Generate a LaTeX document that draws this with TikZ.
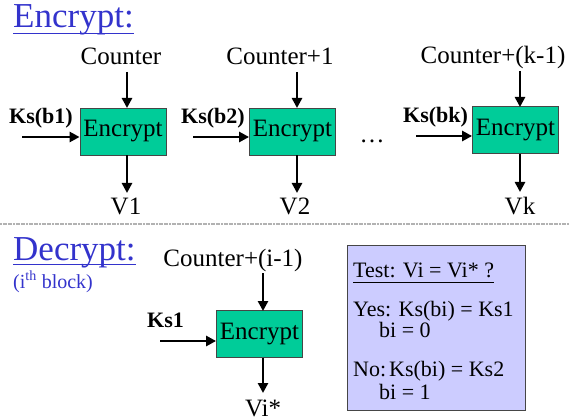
\documentclass[tikz,border=0pt]{standalone}
\usepackage{fontspec}
\setmainfont{Liberation Serif}
\usetikzlibrary{arrows.meta,calc}

\definecolor{boxgreen}{RGB}{0,204,153}
\definecolor{titleblue}{RGB}{51,51,204}
\definecolor{testfill}{RGB}{204,204,255}
\definecolor{edge}{RGB}{70,70,70}

\tikzset{
  lbl/.style={inner sep=0pt, anchor=base, font=\fontsize{25}{28}\selectfont},
  keylbl/.style={inner sep=0pt, anchor=base west, font=\fontsize{22}{24}\selectfont\bfseries},
  testlbl/.style={inner sep=0pt, anchor=base west, font=\fontsize{22}{24}\selectfont},
  title/.style={inner sep=0pt, anchor=base west, text=titleblue, font=\fontsize{35}{38}\selectfont},
  encbox/.style={draw=edge, line width=0.8pt, fill=boxgreen, minimum width=86pt, minimum height=47pt,
    inner sep=0pt, font=\fontsize{25}{28}\selectfont},
  flow/.style={line width=2.8pt, -{Triangle[length=10pt,width=10pt]}},
  uline/.style={line width=1.4pt},
}

\begin{document}
\begin{tikzpicture}[x=1pt,y=-1pt]
\useasboundingbox (0,0) rectangle (569,419);

% ---------- encryption of k blocks ----------
\node[title] (enctitle) at (13,28) {Encrypt:};
\draw[uline, titleblue] ($(enctitle.base west)+(0,5.5)$) -- ($(enctitle.base east)+(0,5.5)$);

\node[encbox] (e1) at (123,131.5) {Encrypt};
\node[encbox] (e2) at (292.5,131.5) {Encrypt};
\node[encbox] (ek) at (515.5,130) {Encrypt};

\node[lbl] (c1) at (121,65) {Counter};
\node[lbl] (c2) at (280,65) {Counter+1};
\node[lbl] (ck) at (493,64) {Counter+(k-1)};

\node[keylbl] (k1) at (9,124) {Ks(b1)};
\node[keylbl] (k2) at (181,124) {Ks(b2)};
\node[keylbl] (kk) at (403,123) {Ks(bk)};

\node[lbl] (v1) at (126,215) {V1};
\node[lbl] (v2) at (295,215) {V2};
\node[lbl] (vk) at (520,215) {Vk};

\node[lbl] (dots) at (372,143) {\dots};

\coordinate (i1) at (22,137);
\coordinate (i2) at (193,137);
\coordinate (ik) at (416,136);

\draw[flow] (127,72) -- (127,108);
\draw[flow] (297,72) -- (297,108);
\draw[flow] (520,71) -- (520,107);

\draw[flow] (i1) -- (e1.west |- i1);
\draw[flow] (i2) -- (e2.west |- i2);
\draw[flow] (ik) -- (ek.west |- ik);

\draw[flow] (e1.south -| 127,0) -- (127,193);
\draw[flow] (e2.south -| 297,0) -- (297,193);
\draw[flow] (ek.south -| 520,0) -- (520,192);

% ---------- separator ----------
\draw[gray!60, line width=1.6pt, dash pattern=on 2pt off 0.6pt] (0,224) -- (569,224);

% ---------- decryption of block i ----------
\node[title] (dectitle) at (13,260) {Decrypt:};
\draw[uline, titleblue] ($(dectitle.base west)+(0,4.5)$) -- ($(dectitle.base east)+(0,4.5)$);
\node[inner sep=0pt, anchor=base west, text=titleblue, font=\fontsize{20}{22}\selectfont]
  (blk) at (13,288) {(i\textsuperscript{th} block)};

\node[encbox] (d) at (259.5,334) {Encrypt};
\node[lbl] (ci) at (233,266) {Counter+(i-1)};
\node[keylbl] (ks1) at (147,327) {Ks1};
\node[lbl] (vi) at (263,416) {Vi*};
\coordinate (id) at (160,341);

\draw[flow] (263,273) -- (263,311);
\draw[flow] (id) -- (d.west |- id);
\draw[flow] (d.south -| 263,0) -- (263,393);

% ---------- key-bit test ----------
\node[draw=edge, line width=0.8pt, fill=testfill, minimum width=178pt, minimum height=165pt,
  inner sep=0pt, anchor=north west] (test) at (347,245) {};
\node[testlbl] (t0) at (353,277) {Test: Vi = Vi* ?};
\draw[line width=0.9pt] ($(t0.base west)+(0,5)$) -- ($(t0.base east)+(0,5)$);
\node[testlbl] (t1) at (353,316) {Yes: Ks(bi) = Ks1};
\node[testlbl] (t2) at (379,337) {bi = 0};
\node[testlbl] (t3) at (353,376) {No:};
\node[testlbl] (t4) at (389,376) {Ks(bi) = Ks2};
\node[testlbl] (t5) at (379,399) {bi = 1};
\end{tikzpicture}
\end{document}
